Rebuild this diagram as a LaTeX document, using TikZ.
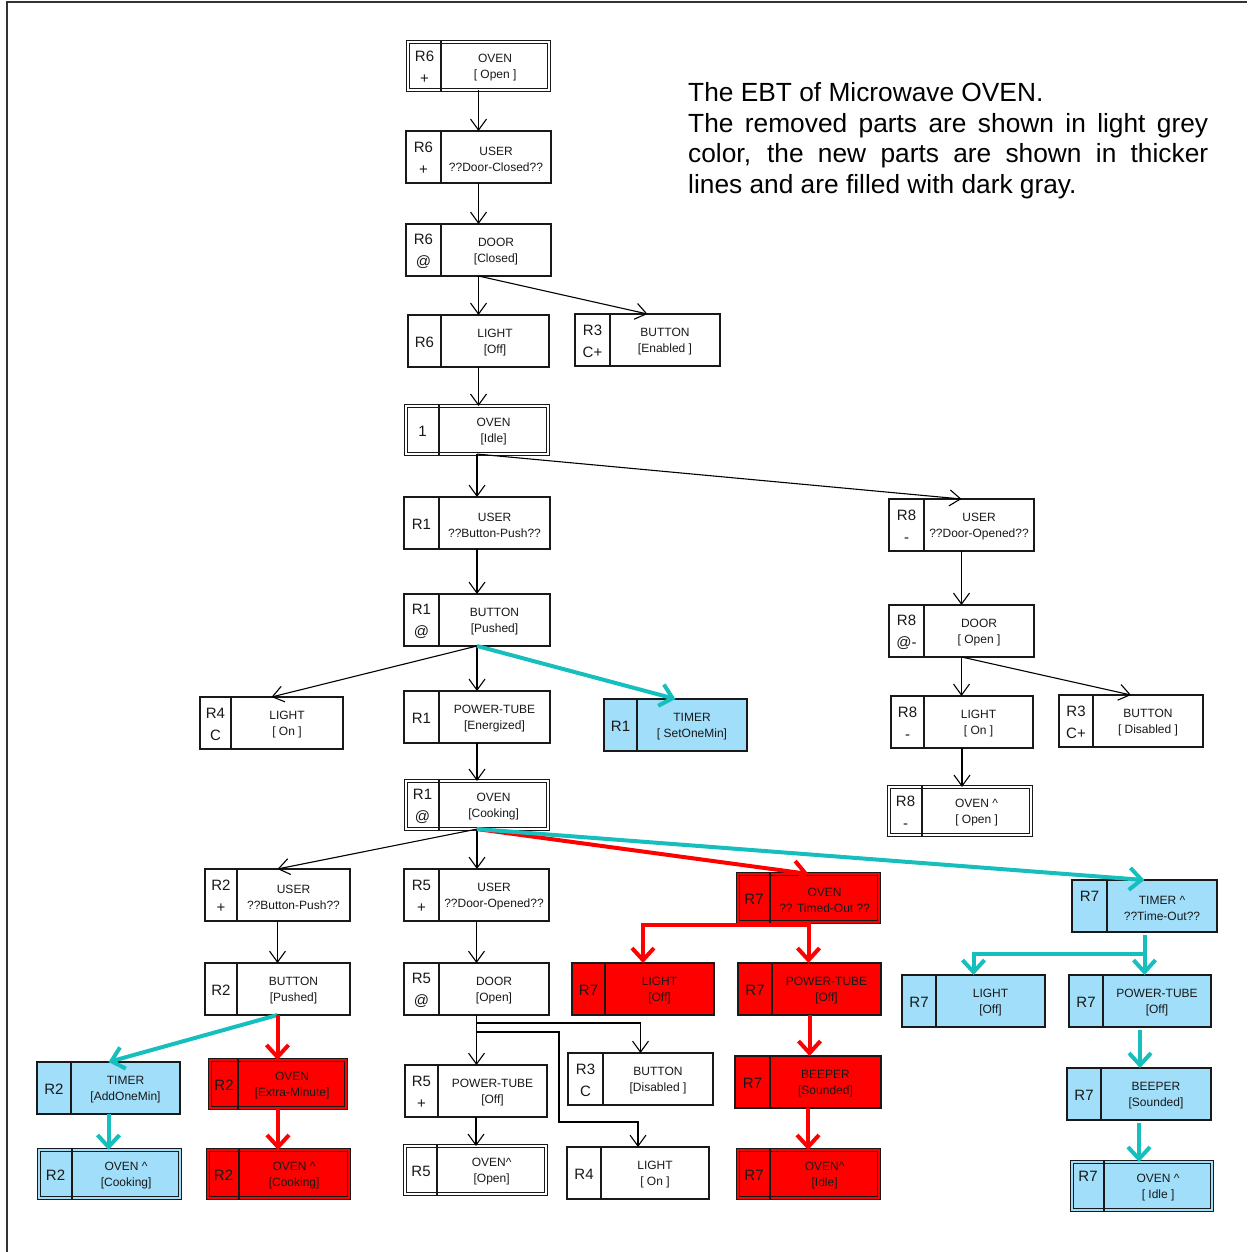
\documentclass[tikz,border=0pt]{standalone}
\usepackage{fontspec}
\setmainfont{Liberation Sans}
\usetikzlibrary{arrows.meta,calc}
\definecolor{lblue}{RGB}{160,222,250}
\definecolor{cy}{RGB}{22,190,190}
\definecolor{rd}{RGB}{255,0,0}
\definecolor{bd}{RGB}{25,25,25}
\tikzset{
 box/.style={draw=bd, line width=1.2pt, inner sep=0pt, outer sep=0pt, anchor=north west, minimum height=52pt},
 wbox/.style={box, fill=white},
 bbox/.style={box, fill=lblue},
 rbox/.style={box, fill=rd},
 wdbox/.style={box, fill=white, line width=1.2pt, double=white, double distance=1.5pt},
 bdbox/.style={box, fill=lblue, line width=1.2pt, double=lblue, double distance=1.5pt},
 rdbox/.style={box, fill=rd, line width=1.2pt, double=rd, double distance=1.5pt},
 txt/.style={font=\fontsize{12}{16}\selectfont, align=center, inner sep=0pt, text=black!90, yshift=-2pt},
 lbl/.style={font=\fontsize{15}{22}\selectfont, align=center, inner sep=0pt, text=black!90, yshift=-1pt},
 title/.style={font=\fontsize{26.3}{30}\selectfont, anchor=base west, inner sep=0pt},
 arr/.style={-{Straight Barb[length=11pt,width=16pt]}, line width=1.1pt, draw=black},
 carr/.style={-{Straight Barb[length=12pt,width=22pt]}, line width=4pt, draw=cy},
 rarr/.style={-{Straight Barb[length=12pt,width=22pt]}, line width=4pt, draw=rd},
 frame/.style={line width=2pt, draw=black!80},
}
% single box: style, name, x, y, width, label-cell width, label, text
\newcommand{\ebox}[8]{%
  \node[#1, minimum width=#5pt] (#2) at (#3,#4) {};
  \draw[bd, line width=1.2pt] ([xshift=#6pt]#2.north west) -- ([xshift=#6pt]#2.south west);
  \node[lbl] (#2-l) at ([xshift=#6pt/2]#2.west) {#7};
  \node[txt] (#2-t) at ([xshift=#6pt/2]#2.center) {#8};
}
% double box
\newcommand{\dbox}[8]{%
  \node[#1, minimum width=#5pt-3.9pt, minimum height=48.1pt] (#2) at (#3+1.95,#4+1.95) {};
  \draw[bd, line width=1.2pt] ([xshift=#6pt-1.95pt,yshift=1.95pt]#2.north west) -- ([xshift=#6pt-1.95pt,yshift=-1.95pt]#2.south west);
  \node[lbl] (#2-l) at ([xshift=#6pt/2-0.9pt]#2.west) {#7};
  \node[txt] (#2-t) at ([xshift=#6pt/2-0.9pt]#2.center) {#8};
}
\begin{document}
\begin{tikzpicture}[x=1pt,y=-1pt]
\useasboundingbox (0,0) rectangle (1247,1252);
\draw[frame] (7,1252) -- (7,2) -- (1247,2);

% title
\node[title] (t1) at (688,102) {The EBT of Microwave OVEN.};
\node[title] (t2) at (688,132.5) {\makebox[520pt][s]{The removed parts are shown in light grey}};
\node[title] (t3) at (688,163) {\makebox[520pt][s]{color, the new parts are shown in thicker}};
\node[title] (t4) at (688,193.5) {lines and are filled with dark gray.};

% boxes
\dbox{wdbox}{open6}{406}{40}{145}{35}{R6\\+}{OVEN\\{[} Open ]}
\ebox{wbox}{user6}{406}{131}{145}{35}{R6\\+}{USER\\??Door-Closed??}
\ebox{wbox}{door6}{406}{224}{145}{35}{R6\\@}{DOOR\\{[}Closed]}
\ebox{wbox}{light6}{408}{315}{141}{33}{R6}{LIGHT\\{[}Off]}
\ebox{wbox}{btn3a}{575}{314}{145}{35}{R3\\C+}{BUTTON\\{[}Enabled ]}
\dbox{wdbox}{idle1}{404}{404}{146}{35}{1}{OVEN\\{[}Idle]}
\ebox{wbox}{user1}{404}{497}{146}{35}{R1}{USER\\??Button-Push??}
\ebox{wbox}{btn1}{404}{594}{146}{35}{R1\\@}{BUTTON\\{[}Pushed]}
\ebox{wbox}{light4}{200}{697}{143}{31}{R4\\C}{LIGHT\\{[} On ]}
\ebox{wbox}{pt1}{404}{691}{146}{35}{R1}{POWER-TUBE\\{[}Energized]}
\ebox{bbox}{tim1}{604}{699}{143}{33}{R1}{TIMER\\{[} SetOneMin]}
\dbox{wdbox}{cook1}{404}{779}{146}{35}{R1\\@}{OVEN\\{[}Cooking]}
\ebox{wbox}{user8}{889}{499}{145}{35}{R8\\-}{USER\\??Door-Opened??}
\ebox{wbox}{door8}{889}{605}{145}{35}{R8\\@-}{DOOR\\{[} Open ]}
\ebox{wbox}{light8}{891}{696}{142}{33}{R8\\-}{LIGHT\\{[} On ]}
\ebox{wbox}{btn3b}{1059}{695}{144}{34}{R3\\C+}{BUTTON\\{[} Disabled ]}
\dbox{wdbox}{open8}{887}{785}{146}{35}{R8\\-}{OVEN \textasciicircum\\{[} Open ]}
\ebox{wbox}{user2}{205}{869}{145}{32}{R2\\+}{USER\\??Button-Push??}
\ebox{wbox}{btn2}{205}{963}{145}{32}{R2}{BUTTON\\{[}Pushed]}
\ebox{bbox}{tim2}{37}{1062}{143}{34}{R2}{TIMER\\{[}AddOneMin]}
\dbox{rdbox}{extra2}{208}{1058}{140}{30}{R2}{OVEN\\{[}Extra-Minute]}
\dbox{bdbox}{cookb}{37}{1148}{145}{35}{R2}{OVEN \textasciicircum\\{[}Cooking]}
\dbox{rdbox}{cookr}{206}{1148}{145}{33}{R2}{OVEN \textasciicircum\\{[}Cooking]}
\ebox{wbox}{user5}{404}{869}{145}{35}{R5\\+}{USER\\??Door-Opened??}
\ebox{wbox}{door5}{404}{963}{145}{35}{R5\\@}{DOOR\\{[}Open]}
\ebox{wbox}{pt5}{405}{1065}{142}{33}{R5\\+}{POWER-TUBE\\{[}Off]}
\dbox{wdbox}{open5}{403}{1144}{145}{34}{R5}{OVEN\textasciicircum\\{[}Open]}
\ebox{wbox}{btn3c}{568}{1053}{145}{35}{R3\\C}{BUTTON\\{[}Disabled ]}
\ebox{wbox}{light4b}{567}{1147}{142}{34}{R4}{LIGHT\\{[} On ]}
\dbox{rdbox}{timed7}{736}{872}{145}{34}{R7}{OVEN\\?? Timed-Out ??}
\ebox{rbox}{light7r}{572}{963}{142}{33}{R7}{LIGHT\\{[}Off]}
\ebox{rbox}{pt7r}{738}{963}{143}{34}{R7}{POWER-TUBE\\{[}Off]}
\ebox{rbox}{beep7r}{735}{1056}{146}{35}{R7}{BEEPER\\{[}Sounded]}
\dbox{rdbox}{idle7r}{736}{1148}{145}{34}{R7}{OVEN\textasciicircum\\{[}Idle]}
\ebox{bbox}{tim7}{1072}{880}{145}{35}{R7\\\mbox{}}{TIMER \textasciicircum\\??Time-Out??}
\ebox{bbox}{light7b}{902}{975}{143}{34}{R7}{LIGHT\\{[}Off]}
\ebox{bbox}{pt7b}{1069}{975}{142}{34}{R7}{POWER-TUBE\\{[}Off]}
\ebox{bbox}{beep7b}{1067}{1068}{144}{34}{R7}{BEEPER\\{[}Sounded]}
\dbox{bdbox}{idle7b}{1070}{1160}{144}{34}{R7\\\mbox{}}{OVEN \textasciicircum\\{[} Idle ]}

% connectors
\draw[arr] (open6.south) -- (open6.south |- user6.north);
\draw[arr] (user6.south) -- (user6.south |- door6.north);
\draw[arr] (door6.south) -- (door6.south |- light6.north);
\draw[arr] (door6.south) -- (btn3a.north);
\draw[arr] (light6.south) -- (light6.south |- idle1.north);
\draw[arr] (idle1.south) -- (idle1.south |- user1.north);
\draw[arr] (idle1.south) -- (user8.north);
\draw[arr] (user1.south) -- (user1.south |- btn1.north);
\draw[arr] (btn1.south) -- (light4.north);
\draw[arr] (btn1.south) -- (btn1.south |- pt1.north);
\draw[carr] (btn1.south) -- (tim1.north);
\draw[arr] (pt1.south) -- (pt1.south |- cook1.north);
\draw[arr] (user8.south) -- (user8.south |- door8.north);
\draw[arr] (door8.south) -- (door8.south |- light8.north);
\draw[arr] (door8.south) -- (btn3b.north);
\draw[arr] (light8.south) -- (light8.south |- open8.north);
\draw[arr] (cook1.south) -- (user2.north);
\draw[arr] (cook1.south) -- (cook1.south |- user5.north);
\draw[rarr] (cook1.south) -- (timed7.north);
\draw[carr] (cook1.south) -- (tim7.north);
\draw[arr] (user2.south) -- (user2.south |- btn2.north);
\draw[carr] (btn2.south) -- (tim2.north);
\draw[rarr] (btn2.south) -- (btn2.south |- extra2.north);
\draw[carr] (tim2.south) -- (tim2.south |- cookb.north);
\draw[rarr] (extra2.south) -- (extra2.south |- cookr.north);
\draw[arr] (user5.south) -- (user5.south |- door5.north);
\draw[arr] (door5.south) -- (door5.south |- pt5.north);
\draw[arr] (door5.south) -- ++(0,8) -| (btn3c.north);
\draw[arr] (door5.south) |- (559,1032) -- (559,1122) -| (light4b.north);
\draw[arr] (pt5.south) -- (pt5.south |- open5.north);
\draw[rarr] (timed7.south) -- ++(0,3) -| (light7r.north);
\draw[rarr] (timed7.south) -- (timed7.south |- pt7r.north);
\draw[rarr] (pt7r.south) -- (pt7r.south |- beep7r.north);
\draw[rarr] (beep7r.south) -- (beep7r.south |- idle7r.north);
\draw[carr] ([yshift=-3pt]tim7.south) -- ++(0,19) -| (light7b.north);
\draw[carr] ([yshift=-3pt]tim7.south) -- (tim7.south |- pt7b.north);
\draw[carr] ([yshift=-3pt]pt7b.south) -- (pt7b.south |- beep7b.north);
\draw[carr] ([yshift=-3pt]beep7b.south) -- (beep7b.south |- idle7b.north);
\end{tikzpicture}
\end{document}
